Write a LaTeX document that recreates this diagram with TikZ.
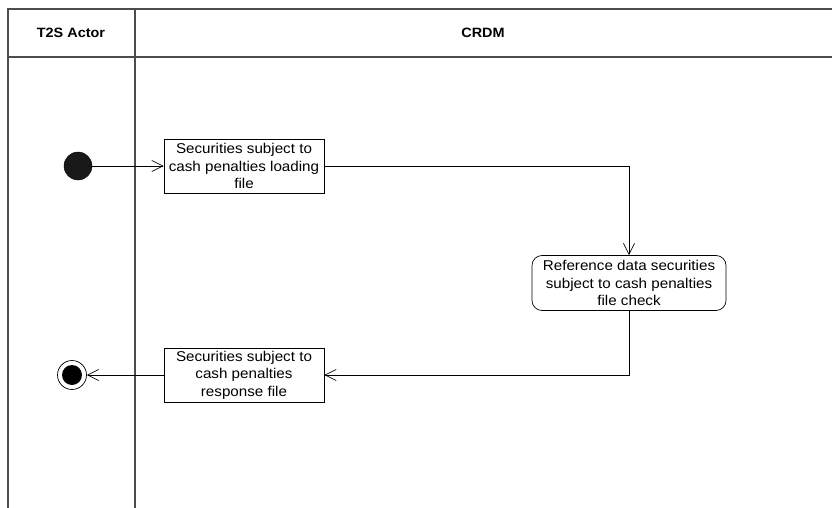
\documentclass[tikz,border=0pt]{standalone}
\usepackage{fontspec}
\setmainfont{Liberation Sans}
\newfontfamily\lanefont[FakeStretch=1.07]{Liberation Sans}
\usepackage{tikz}
\usetikzlibrary{positioning, arrows.meta}

\begin{document}
\begin{tikzpicture}[
            x=1pt, y=-1pt,
            lane/.style={draw=black!70, line width=1.3pt},
            title/.style={font=\lanefont\fontsize{13.5}{15}\selectfont\bfseries},
            action/.style={draw, line width=0.7pt, align=center, minimum width=160pt, minimum height=54pt, inner sep=1pt,
                font=\lanefont\fontsize{14.2}{17.5}\selectfont},
            flow/.style={draw, line width=0.7pt, -{Straight Barb[length=11pt, width=11pt, line width=0.7pt]}},
        ]
            \useasboundingbox (0,0) rectangle (832,508);
            % swimlanes
            \draw[lane] (832,9) -- (8,9) -- (8,508);
            \draw[lane] (8,57) -- (832,57);
            \draw[lane] (135,9) -- (135,508);
            \node[title] (actor) at (71,33) {T2S Actor};
            \node[title] (crdm) at (483,33) {CRDM};

            % nodes
            \node[circle, fill=black!90, draw, inner sep=0pt, minimum size=28pt] (start) at (78,166) {};
            \node[action] (load) at (244,166) {Securities subject to\\cash penalties loading\\file};
            \node[action, rounded corners=10pt, minimum width=194pt, minimum height=55pt] (check) at (629,283)
                {Reference data securities\\subject to cash penalties\\file check};
            \node[action] (resp) at (244,375) {Securities subject to\\cash penalties\\response file};
            \node[circle, draw, line width=0.7pt, inner sep=0pt, minimum size=29pt] (end) at (72,375) {};
            \node[circle, fill=black, inner sep=0pt, minimum size=20pt] (endin) at (end) {};

            % transitions
            \draw[flow] (start) -- (load);
            \draw[flow] (load.east) -| (check.north);
            \draw[flow] (check.south) |- (resp.east);
            \draw[flow] (resp.west) -- (end);
        \end{tikzpicture}
\end{document}
